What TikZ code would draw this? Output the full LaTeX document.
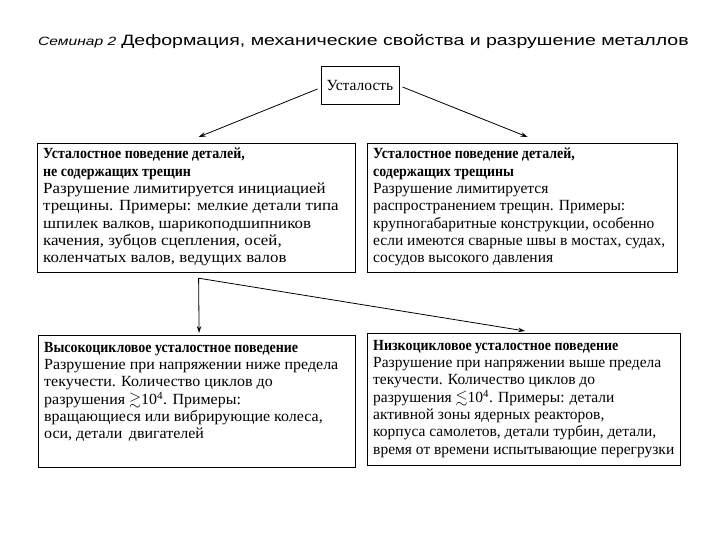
\documentclass[tikz,border=0pt]{standalone}
\usepackage{amssymb}
\usepackage{fontspec}
\setmainfont{Liberation Serif}
\newfontfamily\arialfont[FakeStretch=1.3]{Liberation Sans}
\newfontfamily\hdfont[FakeStretch=0.9]{Liberation Serif}
\newfontfamily\bodyA[FakeStretch=1.09]{Liberation Serif}
\newfontfamily\bodyC[FakeStretch=1.03]{Liberation Serif}
\newcommand{\hd}[1]{{\hdfont\bfseries #1}}
\usetikzlibrary{arrows.meta,calc}
\begin{document}
\begin{tikzpicture}[x=1pt,y=1pt,
  box/.style={draw=black,line width=1.2pt,inner sep=0pt,anchor=north west},
  txt/.style={anchor=north west,align=left,inner sep=0pt,font=#1\fontsize{15.5}{17.3}\selectfont},
  arr/.style={line width=0.8pt,-{Stealth[length=7pt,width=4.5pt]}}]
\useasboundingbox (0,0) rectangle (720,-540);
% title
\node[anchor=base west,inner sep=0pt] (ttl) at (38,-46) {{\arialfont\itshape\fontsize{12}{14}\selectfont Семинар 2}\hspace{5pt}{\arialfont\fontsize{15}{18}\selectfont Деформация, механические свойства и разрушение металлов}};
% top box
\node[draw=black,line width=1pt,minimum width=78pt,minimum height=38pt,inner sep=0pt,font=\fontsize{15.5}{17}\selectfont] (top) at (360,-86) {Усталость};
% boxes
\node[box,minimum width=318pt,minimum height=129pt] (b1) at (37,-143) {};
\node[box,minimum width=310pt,minimum height=129pt] (b2) at (367,-143) {};
\node[box,minimum width=317pt,minimum height=132pt] (b3) at (38,-335) {};
\node[box,minimum width=313pt,minimum height=132pt] (b4) at (367,-333) {};
% texts
\node[txt=\bodyA] (t1) at ($(b1.north west)+(6,-5)$) {\hd{Усталостное поведение деталей,}\\
\hd{не содержащих трещин}\\
Разрушение лимитируется инициацией\\
трещины. Примеры: мелкие детали типа\\
шпилек валков, шарикоподшипников\\
качения, зубцов сцепления, осей,\\
коленчатых валов, ведущих валов};
\node[txt=\rmfamily] (t2) at ($(b2.north west)+(6,-5)$) {\hd{Усталостное поведение деталей,}\\
\hd{содержащих трещины}\\
Разрушение лимитируется\\
распространением трещин. Примеры:\\
крупногабаритные конструкции, особенно\\
если имеются сварные швы в мостах, судах,\\
сосудов высокого давления};
\node[txt=\bodyC] (t3) at ($(b3.north west)+(6,-7)$) {\hd{Высокоцикловое усталостное поведение}\\
Разрушение при напряжении ниже предела\\
текучести. Количество циклов до\\
разрушения $\gtrsim$10\textsuperscript{4}. Примеры:\\
вращающиеся или вибрирующие колеса,\\
оси, детали\, двигателей};
\node[txt=\rmfamily] (t4) at ($(b4.north west)+(6,-7)$) {\hd{Низкоцикловое усталостное поведение}\\
Разрушение при напряжении выше предела\\
текучести. Количество циклов до\\
разрушения $\lesssim$10\textsuperscript{4}. Примеры: детали\\
активной зоны ядерных реакторов,\\
корпуса самолетов, детали турбин, детали,\\
время от времени испытывающие перегрузки};
% connectors
\coordinate (tl) at ($(top.west)+(-3,-3)$);
\coordinate (tr) at ($(top.east)+(3,-1)$);
\draw[arr] (tl) -- ([xshift=2pt,yshift=6pt]b1.north);
\draw[arr] (tr) -- ([xshift=5pt,yshift=6pt]b2.north);
\coordinate (j) at ([xshift=2pt,yshift=-5pt]b1.south);
\draw[arr] (j) -- ([xshift=2pt,yshift=2pt]b3.north);
\draw[arr] (j) -- ([xshift=1pt,yshift=2pt]b4.north);
\end{tikzpicture}
\end{document}
